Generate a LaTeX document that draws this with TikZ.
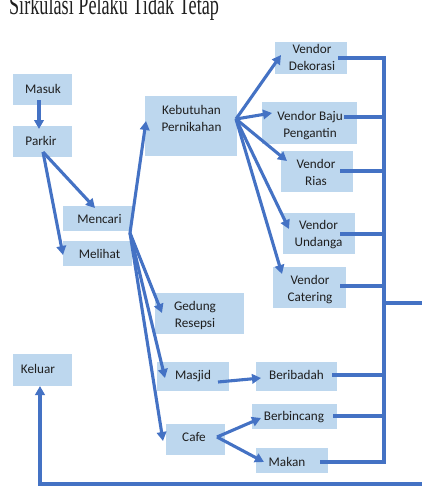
\documentclass[tikz,border=0pt]{standalone}
\usepackage{fontspec}
\setmainfont{Carlito}
\newfontfamily\titlefont{Liberation Serif}
\usetikzlibrary{arrows.meta}
\definecolor{boxblue}{HTML}{BDD7EE}
\definecolor{lineblue}{HTML}{4472C4}
\definecolor{txtc}{HTML}{1F1F1F}
\begin{document}
\begin{tikzpicture}[x=1pt,y=-1pt,
  box/.style={fill=boxblue, draw=none, inner sep=0pt, anchor=north west},
  lbl/.style={text=txtc, font=\fontsize{13.2}{17}\selectfont, align=center, inner sep=0pt},
  arr/.style={draw=lineblue, line width=3.1pt, -{Triangle[length=9pt,width=9.5pt]}},
  bus/.style={draw=lineblue, line width=3.1pt}]
\useasboundingbox (0,0) rectangle (422,490);
% title, cut by the page top as in the reference
\node[anchor=base west, inner sep=0pt, text=txtc, xscale=0.65, font=\titlefont\fontsize{28}{30}\selectfont] (title) at (9,14.5) {Sirkulasi Pelaku Tidak Tetap};
% boxes
\node[box, minimum width=59pt, minimum height=31pt] (masuk) at (13,74) {};
\node[box, minimum width=59pt, minimum height=31pt] (parkir) at (13,126) {};
\node[box, minimum width=69pt, minimum height=25pt] (mencari) at (63,206) {};
\node[box, minimum width=69pt, minimum height=25pt] (melihat) at (63,241) {};
\node[box, minimum width=92pt, minimum height=60pt] (keb) at (145,96) {};
\node[box, minimum width=72pt, minimum height=32pt] (dek) at (275,42) {};
\node[box, minimum width=95pt, minimum height=42pt] (baju) at (262,102) {};
\node[box, minimum width=72pt, minimum height=41pt] (rias) at (281,151) {};
\node[box, minimum width=72pt, minimum height=41pt] (und) at (283,213) {};
\node[box, minimum width=73pt, minimum height=41pt] (cat) at (273,267) {};
\node[box, minimum width=89pt, minimum height=41pt] (ged) at (155,293) {};
\node[box, minimum width=59pt, minimum height=32pt] (keluar) at (13,354) {};
\node[box, minimum width=72pt, minimum height=29pt] (masjid) at (157,362) {};
\node[box, minimum width=81pt, minimum height=29pt] (berib) at (256,362) {};
\node[box, minimum width=85pt, minimum height=25pt] (berb) at (252,404) {};
\node[box, minimum width=59pt, minimum height=31pt] (cafe) at (166,424) {};
\node[box, minimum width=72pt, minimum height=25pt] (makan) at (256,448) {};
% labels
\node[lbl] (masuk-t) at (43,88.5) {Masuk};
\node[lbl] (parkir-t) at (41,140.5) {Parkir};
\node[lbl] (mencari-t) at (99.5,219) {Mencari};
\node[lbl] (melihat-t) at (99.5,254) {Melihat};
\node[lbl] (keb-t) at (191.5,118) {Kebutuhan\\Pernikahan};
\node[lbl] (dek-t) at (312,57) {Vendor\\Dekorasi};
\node[lbl] (baju-t) at (310,126) {Vendor Baju\\Pengantin};
\node[lbl] (rias-t) at (316,172) {Vendor\\Rias};
\node[lbl] (und-t) at (318.5,235) {Vendor\\Undanga};
\node[lbl] (cat-t) at (310,289.5) {Vendor\\Catering};
\node[lbl] (ged-t) at (195,315) {Gedung\\Resepsi};
\node[lbl] (keluar-t) at (38,369) {Keluar};
\node[lbl] (masjid-t) at (193,376) {Masjid};
\node[lbl] (berib-t) at (296.5,375) {Beribadah};
\node[lbl] (berb-t) at (294,417) {Berbincang};
\node[lbl] (cafe-t) at (194,437) {Cafe};
\node[lbl] (makan-t) at (287,462) {Makan};
% connector points
\coordinate (masuk-o) at (39,100);
\coordinate (parkir-i) at (39,129);
\coordinate (parkir-o) at (43,152);
\coordinate (mencari-i) at (95,208);
\coordinate (melihat-i) at (63,255);
\coordinate (mencari-o) at (130,233);
\coordinate (keb-i) at (146,121);
\coordinate (ged-i) at (162,313);
\coordinate (masjid-i) at (165,378);
\coordinate (cafe-i) at (163,441);
\coordinate (keb-o) at (236,119);
\coordinate (dek-i) at (281,55);
\coordinate (baju-i) at (272,113);
\coordinate (rias-i) at (287,161);
\coordinate (und-i) at (289,229);
\coordinate (cat-i) at (282,274);
\coordinate (masjid-o) at (218,382);
\coordinate (berib-i) at (261,378);
\coordinate (cafe-o) at (217,437);
\coordinate (berb-i) at (261,418);
\coordinate (makan-i) at (264,462);
\coordinate (keluar-i) at (40,386);
\coordinate (dek-o) at (338,58);
\coordinate (baju-o) at (344,117);
\coordinate (rias-o) at (340,171);
\coordinate (und-o) at (340,234);
\coordinate (cat-o) at (340,286);
\coordinate (berib-o) at (332,375);
\coordinate (berb-o) at (333,416);
\coordinate (makan-o) at (320,462);
\coordinate (bus-x) at (384,0);
\coordinate (out1) at (430,303);
\coordinate (out2) at (430,484);
% arrows
\draw[arr] (masuk-o) -- (parkir-i);
\draw[arr] (parkir-o) -- (mencari-i);
\draw[arr] (parkir-o) -- (melihat-i);
\draw[arr] (mencari-o) -- (keb-i);
\draw[arr] (mencari-o) -- (ged-i);
\draw[arr] (mencari-o) -- (masjid-i);
\draw[arr] (mencari-o) -- (cafe-i);
\draw[arr] (keb-o) -- (dek-i);
\draw[arr] (keb-o) -- (baju-i);
\draw[arr] (keb-o) -- (rias-i);
\draw[arr] (keb-o) -- (und-i);
\draw[arr] (keb-o) -- (cat-i);
\draw[arr] (masjid-o) -- (berib-i);
\draw[arr] (cafe-o) -- (berb-i);
\draw[arr] (cafe-o) -- (makan-i);
% bus on the right
\draw[bus] (dek-o) -| (bus-x |- makan-o) -- (makan-o);
\draw[bus] (baju-o) -- (bus-x |- baju-o);
\draw[bus] (rias-o) -- (bus-x |- rias-o);
\draw[bus] (und-o) -- (bus-x |- und-o);
\draw[bus] (cat-o) -- (bus-x |- cat-o);
\draw[bus] (berib-o) -- (bus-x |- berib-o);
\draw[bus] (berb-o) -- (bus-x |- berb-o);
\draw[bus] (bus-x |- out1) -- (out1);
\draw[arr] (out2) -| (keluar-i);
\end{tikzpicture}
\end{document}
